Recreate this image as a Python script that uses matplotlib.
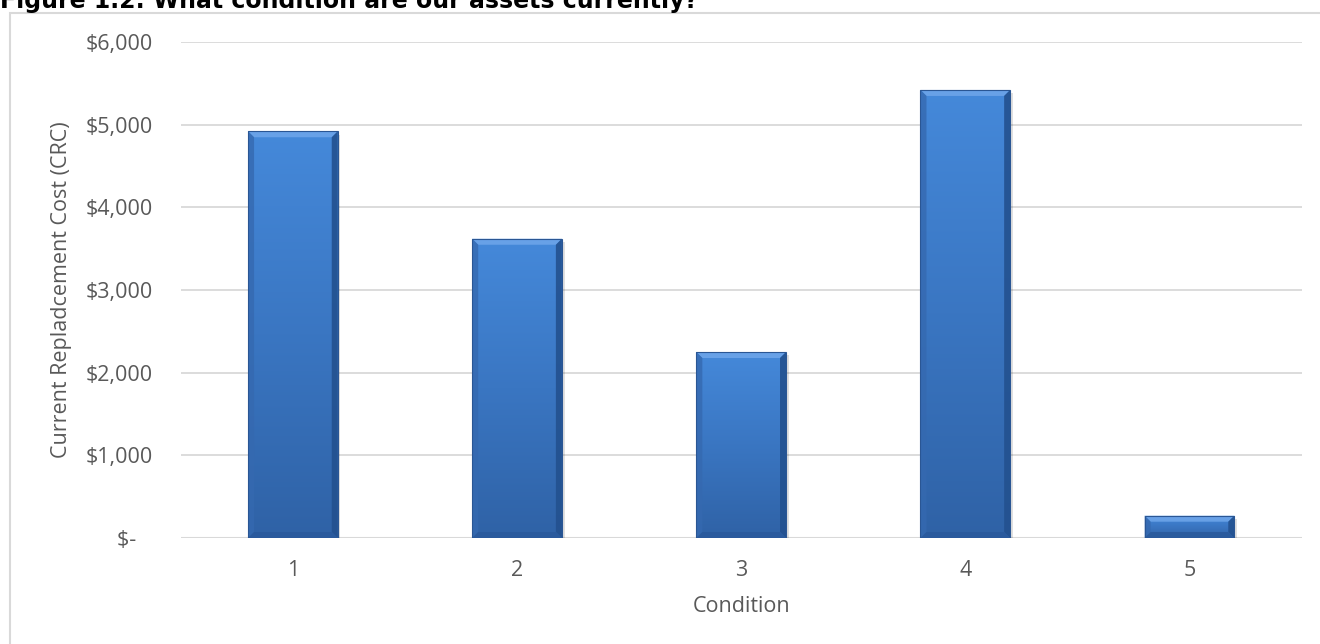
import numpy as np
import matplotlib.pyplot as plt
from matplotlib.colors import LinearSegmentedColormap
from matplotlib.patches import Polygon, Rectangle
from matplotlib.ticker import FuncFormatter

# data
conditions = ['1', '2', '3', '4', '5']
crc_values = [4920, 3620, 2250, 5420, 270]

plt.rcParams['font.family'] = ['Open Sans', 'DejaVu Sans']
grey = '#595959'
fs = 15.5

fig = plt.figure(figsize=(13.2, 6.44), dpi=100)
ax = fig.add_axes([0.137, 0.1646, 0.849, 0.7702])

# outer frame of the chart area
fig.patches.append(Rectangle((10 / 1320, -0.01), 1.0, 1 - 13 / 644 + 0.01,
                             transform=fig.transFigure, fill=False,
                             edgecolor='#D9D9D9', linewidth=1.5))
fig.text(0.0, 1.0 - 8 / 644, 'Figure 1.2: What condition are our assets currently?',
         fontsize=17, fontweight='bold', color='black', family='DejaVu Sans',
         ha='left', va='baseline')

x = np.arange(len(conditions))
width = 0.40

ax.set_xlim(-0.5, len(conditions) - 0.5)
ax.set_ylim(0, 6000)
ax.set_yticks(np.arange(0, 6001, 1000))
ax.yaxis.grid(True, color='#D9D9D9', linewidth=1.3)
ax.set_axisbelow(True)
for s in ax.spines.values():
    s.set_visible(False)
ax.axhline(0, color='#D9D9D9', linewidth=1.5, zorder=1)

grad = LinearSegmentedColormap.from_list('bar', ['#2F62A6', '#3A76C2', '#4589DA'])
ramp = np.linspace(0, 1, 256).reshape(-1, 1)

# bevel sizes in data units (~6 px)
bx = 6 / 224.2
by = 6 / 82.7 * 1000

for xi, h in zip(x, crc_values):
    x0, x1 = xi - width / 2, xi + width / 2
    # soft shadow
    ax.add_patch(Rectangle((x0 + 0.012, -40), width, h, facecolor='#000000',
                           alpha=0.12, linewidth=0, zorder=2))
    bar = ax.bar(xi, h, width, color='#3A74C0', zorder=3)[0]
    im = ax.imshow(ramp, extent=[x0, x1, 0, h], origin='lower', cmap=grad,
                   aspect='auto', zorder=3.1)
    im.set_clip_path(bar)
    b_y = min(by, h / 3)
    b_x = bx
    # bevel faces
    top = Polygon([(x0, h), (x1, h), (x1 - b_x, h - b_y), (x0 + b_x, h - b_y)],
                  facecolor='#6FA6EA', linewidth=0, alpha=0.85, zorder=3.2)
    left = Polygon([(x0, 0), (x0, h), (x0 + b_x, h - b_y), (x0 + b_x, b_y)],
                   facecolor='#3569B0', linewidth=0, alpha=0.8, zorder=3.2)
    right = Polygon([(x1, 0), (x1, h), (x1 - b_x, h - b_y), (x1 - b_x, b_y)],
                    facecolor='#23518F', linewidth=0, alpha=0.9, zorder=3.2)
    bottom = Polygon([(x0, 0), (x1, 0), (x1 - b_x, b_y), (x0 + b_x, b_y)],
                     facecolor='#2A5A9C', linewidth=0, alpha=0.9, zorder=3.2)
    for p in (top, left, right, bottom):
        ax.add_patch(p)
    ax.add_patch(Rectangle((x0, 0), width, h, fill=False, edgecolor='#2A5694',
                           linewidth=0.8, zorder=3.3))

ax.set_xticks(x)
ax.set_xticklabels(conditions)
ax.yaxis.set_major_formatter(FuncFormatter(
    lambda v, p: '$-   ' if v == 0 else f'${v:,.0f}'))
ax.tick_params(axis='both', length=0, labelsize=fs, colors=grey)
ax.tick_params(axis='y', pad=20)
ax.tick_params(axis='x', pad=16)
ax.set_xlabel('Condition', fontsize=fs, color=grey, labelpad=11)
ax.set_ylabel('Current Repladcement Cost (CRC)', fontsize=fs, color=grey,
              labelpad=10)

fig.savefig('out.png', dpi=100)
